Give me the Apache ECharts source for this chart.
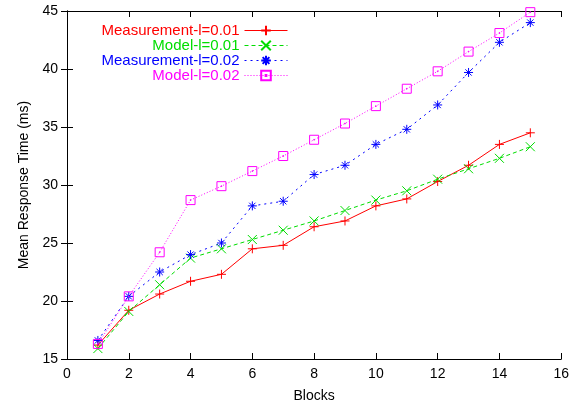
<!DOCTYPE html>
<html>
<head>
<meta charset="utf-8">
<script src="https://cdn.jsdelivr.net/npm/echarts@6/dist/echarts.min.js"></script>
<style>
  html, body { margin: 0; padding: 0; background: #fff; }
  #chart { width: 572px; height: 408px; }
</style>
</head>
<body>
<div id="chart"></div>
<script>
// blocks 1..15
var blocks = [1, 2, 3, 4, 5, 6, 7, 8, 9, 10, 11, 12, 13, 14, 15];
var measure001 = [16.2, 19.2, 20.6, 21.7, 22.3, 24.5, 24.8, 26.4, 26.9, 28.2, 28.8, 30.3, 31.7, 33.5, 34.5];
var model001 = [15.9, 19.1, 21.4, 23.7, 24.5, 25.3, 26.1, 26.9, 27.8, 28.7, 29.5, 30.5, 31.4, 32.3, 33.3];
var measure002 = [16.6, 20.4, 22.5, 24.0, 25.0, 28.2, 28.6, 30.9, 31.7, 33.5, 34.8, 36.9, 39.7, 42.3, 44.0];
var model002 = [16.3, 20.4, 24.2, 28.7, 29.9, 31.2, 32.5, 33.9, 35.3, 36.8, 38.3, 39.8, 41.5, 43.1, 44.9];

var names = ["Measurement-l=0.01", "Model-l=0.01", "Measurement-l=0.02", "Model-l=0.02"];
var colors = ["#ff0000", "#00dd00", "#0000ff", "#ff00ff"];
var dashes = ["solid", [4, 3], [2, 4], [1, 2]];

function pairs(ys) {
  return blocks.map(function (x, i) { return [x, ys[i]]; });
}

var plusSym = "path://M0,5L10,5M5,0L5,10";
var crossSym = "path://M0,0L10,10M10,0L0,10";
var starSym = "path://M0,5L10,5M5,0L5,10M1.5,1.5L8.5,8.5M8.5,1.5L1.5,8.5";
var boxSym = "path://M0,0L10,0L10,10L0,10ZM4.6,4.6L5.4,4.6L5.4,5.4L4.6,5.4Z";

function mkSeries(i, ys, sym) {
  return {
    name: names[i],
    type: "line",
    data: pairs(ys),
    symbol: sym,
    symbolSize: 9,
    showAllSymbol: true,
    lineStyle: { color: colors[i], width: 1, type: dashes[i] },
    itemStyle: { color: "rgba(0,0,0,0)", borderColor: colors[i], borderWidth: 1 },
    emphasis: { disabled: true },
    animation: false
  };
}

var chart = echarts.init(document.getElementById("chart"));
var axisCommon = {
  axisLine: { lineStyle: { color: "#000", width: 1 } },
  axisTick: { inside: true, length: 6, lineStyle: { color: "#000" } },
  splitLine: { show: false }
};
var option = {
  backgroundColor: "#fff",
  textStyle: { fontFamily: "Liberation Sans, Arial, sans-serif" },
  grid: { left: 67, right: 9, top: 11, bottom: 48, containLabel: false },
  legend: {
    orient: "vertical",
    align: "right",
    right: 279,
    top: 18,
    itemGap: 0,
    itemWidth: 43,
    itemHeight: 12,
    textStyle: { fontSize: 15, lineHeight: 15, fontFamily: "Liberation Sans, Arial, sans-serif" },
    data: names.map(function (n, i) {
      return {
        name: n,
        textStyle: { color: colors[i] },
        lineStyle: { color: colors[i], width: 1, type: dashes[i] }
      };
    })
  },
  xAxis: [
    Object.assign({
      type: "value", min: 0, max: 16, interval: 2,
      name: "Blocks", nameLocation: "middle", nameGap: 30,
      nameTextStyle: { fontSize: 14, color: "#000" },
      axisLabel: { fontSize: 14, color: "#000", margin: 8 }
    }, axisCommon),
    Object.assign({
      type: "value", min: 0, max: 16, interval: 2, position: "top",
      axisLabel: { show: false }
    }, axisCommon)
  ],
  yAxis: [
    Object.assign({
      type: "value", min: 15, max: 45, interval: 5,
      name: "Mean Response Time (ms)", nameLocation: "middle", nameGap: 34,
      nameTextStyle: { fontSize: 14, color: "#000" },
      axisLabel: { fontSize: 14, color: "#000", margin: 9 }
    }, axisCommon),
    Object.assign({
      type: "value", min: 15, max: 45, interval: 5, position: "right",
      axisLabel: { show: false }
    }, axisCommon)
  ],
  series: [
    mkSeries(0, measure001, plusSym),
    mkSeries(1, model001, crossSym),
    mkSeries(2, measure002, starSym),
    mkSeries(3, model002, boxSym)
  ]
};
chart.setOption(option);
</script>
</body>
</html>
